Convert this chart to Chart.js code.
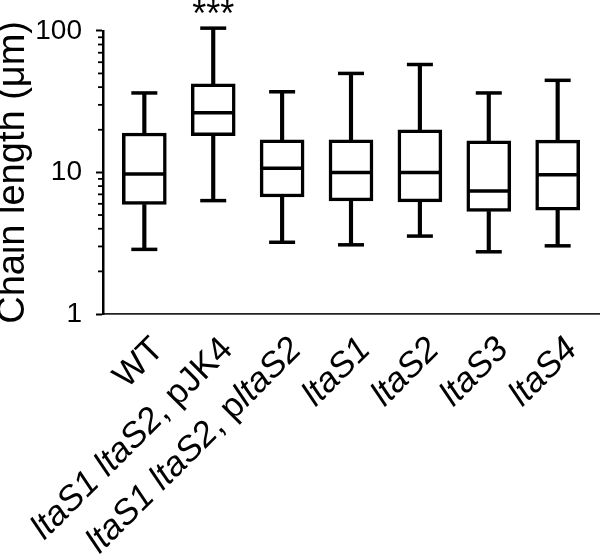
<!DOCTYPE html>
<html><head><meta charset="utf-8">
<script src="https://cdn.jsdelivr.net/npm/chart.js@4.4.1/dist/chart.umd.min.js"></script>
<style>html,body{margin:0;padding:0;background:#fff;}</style>
</head><body>
<canvas id="c" width="600" height="560"></canvas>
<script>
// Category labels: text between *...* is italic
const categories = ['WT', '*ltaS1* *ltaS2*, pJK4', '*ltaS1* *ltaS2*, p*ltaS2*', '*ltaS1*', '*ltaS2*', '*ltaS3*', '*ltaS4*'];
const whiskerMin = [2.86, 6.32, 3.21, 3.08, 3.55, 2.75, 3.03];
const quartile1  = [5.93, 18.2, 6.7, 6.29, 6.19, 5.30, 5.42];
const medians    = [9.73, 26.4, 10.7, 10.0, 10.0, 7.38, 9.64];
const quartile3  = [18.97, 42.2, 17.0, 17.0, 20.0, 16.7, 16.9];
const whiskerMax = [36.4, 104.4, 37.1, 50.0, 57.8, 36.4, 44.7];
const significance = ['', '***', '', '', '', '', ''];
const yMajorTicks = [1, 10, 100];
const yMinorTicks = [2, 3, 4, 5, 6, 7, 8, 9, 20, 30, 40, 50, 60, 70, 80, 90];
const yTitle = 'Chain length (\u03bcm)';

const FONT = '"Liberation Sans", Arial, Helvetica, sans-serif';
const idx = categories.map((_, i) => i);

function parseLabel(s) {
  const parts = s.split('*');
  return parts.map((t, k) => ({ text: t, italic: k % 2 === 1 })).filter(p => p.text.length);
}

const extrasPlugin = {
  id: 'extras',
  afterDraw(chart) {
    const ctx = chart.ctx, xs = chart.scales.x, ys = chart.scales.y;
    ctx.save();
    // minor ticks on y axis
    ctx.strokeStyle = '#000';
    ctx.lineWidth = 1.8;
    const x0 = ys.right;
    yMinorTicks.forEach(v => {
      const y = ys.getPixelForValue(v);
      ctx.beginPath(); ctx.moveTo(x0 - 5, y); ctx.lineTo(x0, y); ctx.stroke();
    });
    // category labels, rotated 45 degrees
    ctx.fillStyle = '#000';
    ctx.textBaseline = 'alphabetic';
    ctx.textAlign = 'left';
    categories.forEach((lab, i) => {
      const segs = parseLabel(lab);
      let total = 0;
      segs.forEach(s => {
        ctx.font = (s.italic ? 'italic ' : '') + '35px ' + FONT;
        s.w = ctx.measureText(s.text).width; total += s.w;
      });
      ctx.save();
      ctx.translate(xs.getPixelForValue(i) + 21, 351);
      ctx.rotate(-Math.PI / 4);
      let x = -total;
      segs.forEach(s => {
        ctx.font = (s.italic ? 'italic ' : '') + '35px ' + FONT;
        ctx.fillText(s.text, x, 0); x += s.w;
      });
      ctx.restore();
    });
    // significance marks
    ctx.textAlign = 'center';
    ctx.font = '36px ' + FONT;
    significance.forEach((s, i) => {
      if (!s) return;
      ctx.fillText(s, xs.getPixelForValue(i), ys.getPixelForValue(whiskerMax[i]) - 2);
    });
    ctx.restore();
  }
};

new Chart(document.getElementById('c'), {
  type: 'bar',
  data: {
    datasets: [
      { type: 'bar', label: 'upper whisker', data: idx.map(i => ({ x: i, y: [quartile3[i], whiskerMax[i]] })),
        backgroundColor: '#000', borderWidth: 0, barThickness: 3.5, grouped: false, clip: false, order: 3 },
      { type: 'bar', label: 'lower whisker', data: idx.map(i => ({ x: i, y: [whiskerMin[i], quartile1[i]] })),
        backgroundColor: '#000', borderWidth: 0, barThickness: 3.5, grouped: false, clip: false, order: 3 },
      { type: 'bar', label: 'box', data: idx.map(i => ({ x: i, y: [quartile1[i], quartile3[i]] })),
        backgroundColor: '#fff', borderColor: '#000', borderWidth: 3.5, borderSkipped: false,
        barThickness: 44, grouped: false, clip: false, order: 2 },
      { type: 'line', label: 'median', data: idx.map(i => ({ x: i, y: medians[i] })), showLine: false,
        pointStyle: 'line', pointRadius: 20.5, pointHoverRadius: 20.5, pointBorderWidth: 3.5,
        pointBorderColor: '#000', borderColor: '#000', clip: false, order: 1 },
      { type: 'line', label: 'caps',
        data: idx.map(i => ({ x: i, y: whiskerMax[i] })).concat(idx.map(i => ({ x: i, y: whiskerMin[i] }))),
        showLine: false, pointStyle: 'line', pointRadius: 13, pointHoverRadius: 13, pointBorderWidth: 3.5,
        pointBorderColor: '#000', borderColor: '#000', clip: false, order: 1 }
    ]
  },
  options: {
    responsive: false,
    devicePixelRatio: 1,
    animation: false,
    layout: { autoPadding: false, padding: { top: 26, right: 1, bottom: 0, left: 0 } },
    plugins: { legend: { display: false }, tooltip: { enabled: false } },
    scales: {
      x: {
        type: 'linear', min: -0.6, max: 6.6, offset: false,
        grid: { display: false, drawTicks: false },
        border: { display: true, color: '#222', width: 1.7 },
        ticks: { display: false },
        afterFit(s) { s.height = 246; }
      },
      y: {
        type: 'logarithmic', min: 1, max: 100, beginAtZero: false,
        grid: { display: true, drawOnChartArea: false, drawTicks: true, tickLength: 7, tickWidth: 2, tickColor: '#000' },
        border: { display: true, color: '#000', width: 2.5 },
        ticks: { color: '#000', font: { family: FONT, size: 28 }, padding: 14, autoSkip: false, callback: v => String(v) },
        afterBuildTicks(s) { s.ticks = yMajorTicks.map(v => ({ value: v, major: true })); },
        title: { display: true, text: yTitle, color: '#000', font: { family: FONT, size: 38, lineHeight: 0.72 }, padding: 0 },
        afterFit(s) { s.width = 103; }
      }
    }
  },
  plugins: [extrasPlugin]
});
</script>
</body></html>
